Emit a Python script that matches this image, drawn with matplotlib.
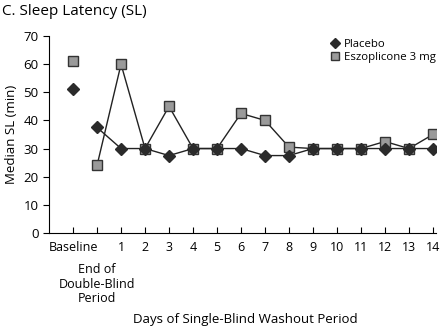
import matplotlib
matplotlib.use("Agg")
import matplotlib.pyplot as plt

plt.rcParams['font.family'] = ['Open Sans', 'DejaVu Sans']

# x positions: -1 = Baseline, 0 = End of double-blind, 1..14 = washout days
days = list(range(1, 15))
tick_labels = ["Baseline", ""] + [str(d) for d in days]

placebo_base = 51
placebo = [37.5, 30, 30, 27.5, 30, 30, 30, 27.5, 27.5, 30, 30, 30, 30, 30, 30]
eszo_base = 61
eszo = [24, 60, 30, 45, 30, 30, 42.5, 40, 30.5, 30, 30, 30, 32.5, 30, 35]

x_line = [0] + days

fig = plt.figure(figsize=(4.42, 3.28), dpi=100)
ax = fig.add_axes([0.111, 0.29, 0.875, 0.60])

ax.plot(x_line, eszo, color='#222222', lw=1, zorder=1)
ax.plot(x_line, placebo, color='#222222', lw=1, zorder=1)
ax.plot([-1], [placebo_base], 'D', color='#2b2b2b', ms=6.5, zorder=3)
ax.plot([-1], [eszo_base], 's', mfc='#9a9a9a', mec='#333333', mew=1, ms=7.3, zorder=2)
ax.plot(x_line, eszo, 's', mfc='#9a9a9a', mec='#333333', mew=1, ms=7.3, ls='none',
        zorder=2, label="Eszoplicone 3 mg")
ax.plot(x_line, placebo, 'D', color='#2b2b2b', ms=6.5, ls='none', zorder=3,
        label="Placebo")

ax.set_xlim(-2, 14.12)
ax.set_ylim(0, 70)
ax.set_yticks(range(0, 80, 10))
ax.set_xticks([-1, 0] + days)
ax.set_xticklabels(tick_labels)
ax.spines['top'].set_visible(False)
ax.spines['right'].set_visible(False)
ax.tick_params(axis='x', direction='in', length=4, labelsize=9, pad=6)
ax.tick_params(axis='y', direction='out', length=4, labelsize=9.5)
ax.set_ylabel("Median SL (min)", fontsize=9.5)

h, l = ax.get_legend_handles_labels()
ax.legend(h[::-1], l[::-1], loc='upper right', bbox_to_anchor=(1.0, 0.985), frameon=False,
          fontsize=8.2, handletextpad=0.1, labelspacing=0.15, handlelength=1.3,
          borderpad=0, borderaxespad=0, markerscale=0.85)

fig.text(0.005, 0.965, "C. Sleep Latency (SL)", fontsize=11, va='center')
ax.text(0, -0.155, "End of\nDouble-Blind\nPeriod", transform=ax.get_xaxis_transform(),
        ha='center', va='top', fontsize=9, linespacing=1.15)
fig.text(0.555, 0.025, "Days of Single-Blind Washout Period", ha='center', va='center',
         fontsize=9.5)

fig.savefig("out.png", dpi=100)
